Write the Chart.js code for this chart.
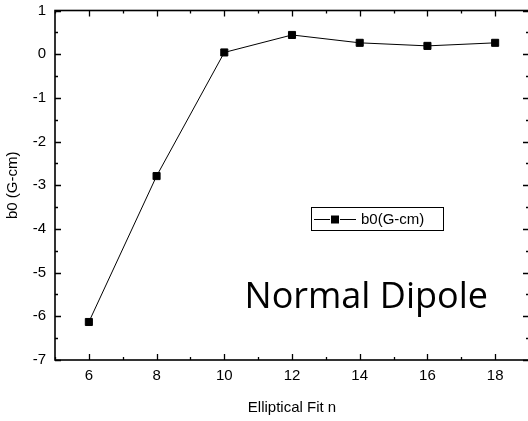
<!DOCTYPE html>
<html>
<head>
<meta charset="utf-8">
<script src="https://cdn.jsdelivr.net/npm/chart.js"></script>
<style>
  html, body { margin: 0; padding: 0; background: #fff; overflow: hidden; }
  #chart { display: block; }
</style>
</head>
<body>
<canvas id="chart" width="535" height="421"></canvas>
<script>
    // ▼ data
    const fitOrder = [6, 8, 10, 12, 14, 16, 18];
    const b0Values = [-6.13, -2.79, 0.04, 0.44, 0.26, 0.19, 0.26];
    const xTicks = [6, 8, 10, 12, 14, 16, 18];
    const yTicks = [-7, -6, -5, -4, -3, -2, -1, 0, 1];
    const seriesName = 'b0(G-cm)';
    const noteText = 'Normal Dipole';

    const ARIAL = '"Liberation Sans", Arial, sans-serif';

    // ▼ frame with inward ticks on all four sides
    const framePlugin = {
        id: 'frame',
        afterDraw(chart) {
            const { ctx, chartArea: a, scales: { x, y } } = chart;
            ctx.save();
            ctx.strokeStyle = '#000';
            ctx.lineWidth = 1.6;
            ctx.strokeRect(a.left, a.top, a.right - a.left, a.bottom - a.top);
            ctx.lineWidth = 1.3;
            ctx.beginPath();
            for (let v = x.min; v <= x.max; v++) {
                const px = Math.round(x.getPixelForValue(v)) + 0.5;
                const len = v % 2 === 0 ? 6 : 3;
                ctx.moveTo(px, a.bottom); ctx.lineTo(px, a.bottom - len);
                ctx.moveTo(px, a.top); ctx.lineTo(px, a.top + len);
            }
            for (let v = y.min; v <= y.max; v += 0.5) {
                const py = Math.round(y.getPixelForValue(v)) + 0.5;
                const len = Number.isInteger(v) ? 6 : 3;
                ctx.moveTo(a.left, py); ctx.lineTo(a.left + len, py);
                ctx.moveTo(a.right, py); ctx.lineTo(a.right - len, py);
            }
            ctx.stroke();
            ctx.restore();
        }
    };

    // ▼ legend box + annotation text
    const notePlugin = {
        id: 'note',
        afterDraw(chart) {
            const { ctx } = chart;
            ctx.save();
            // legend box
            ctx.strokeStyle = '#000';
            ctx.lineWidth = 1;
            ctx.strokeRect(311.5, 207.5, 132, 23);
            ctx.beginPath();
            ctx.moveTo(314, 219.5); ctx.lineTo(330, 219.5);
            ctx.moveTo(340, 219.5); ctx.lineTo(356, 219.5);
            ctx.stroke();
            ctx.fillStyle = '#000';
            ctx.fillRect(331, 215.5, 8, 8);
            ctx.font = '15px ' + ARIAL;
            ctx.textBaseline = 'middle';
            ctx.fillText(seriesName, 361, 220);

            // annotation
            ctx.font = '36px "Open Sans", sans-serif';
            ctx.textBaseline = 'alphabetic';
            ctx.textAlign = 'right';
            ctx.fillText(noteText, 488, 308);
            ctx.restore();
        }
    };

    const ctx = document.getElementById('chart').getContext('2d');
    const chart = new Chart(ctx, {
        type: 'line',
        data: {
            datasets: [{
                label: seriesName,
                data: fitOrder.map((n, i) => ({ x: n, y: b0Values[i] })),
                borderColor: '#000',
                borderWidth: 1,
                backgroundColor: '#000',
                pointStyle: 'rect',
                pointRadius: 5,
                pointBorderWidth: 1,
                tension: 0
            }]
        },
        options: {
            responsive: false,
            animation: false,
            devicePixelRatio: 1,
            layout: { padding: { top: 10.5, right: 1, left: 4, bottom: 0 } },
            plugins: { legend: { display: false }, tooltip: { enabled: false } },
            scales: {
                x: {
                    type: 'linear',
                    min: 5, max: 19,
                    afterBuildTicks: s => { s.ticks = xTicks.map(v => ({ value: v })); },
                    afterFit: s => { s.height = 61; s.paddingLeft = 0; s.paddingRight = 0; },
                    grid: { display: false, drawTicks: false },
                    border: { display: false },
                    ticks: { color: '#000', font: { family: ARIAL, size: 15 }, padding: 7, maxRotation: 0 },
                    title: { display: true, text: 'Elliptical Fit n', color: '#000', font: { family: ARIAL, size: 15 }, padding: { top: 8 } }
                },
                y: {
                    type: 'linear',
                    min: -7, max: 1,
                    afterBuildTicks: s => { s.ticks = yTicks.map(v => ({ value: v })); },
                    afterFit: s => { s.width = 51; s.paddingTop = 0; s.paddingBottom = 0; },
                    grid: { display: false, drawTicks: false },
                    border: { display: false },
                    ticks: { color: '#000', font: { family: ARIAL, size: 15 }, padding: 9 },
                    title: { display: true, text: 'b0 (G-cm)', color: '#000', font: { family: ARIAL, size: 15 }, padding: { top: 0, bottom: 0 } }
                }
            }
        },
        plugins: [framePlugin, notePlugin]
    });
</script>
</body>
</html>
